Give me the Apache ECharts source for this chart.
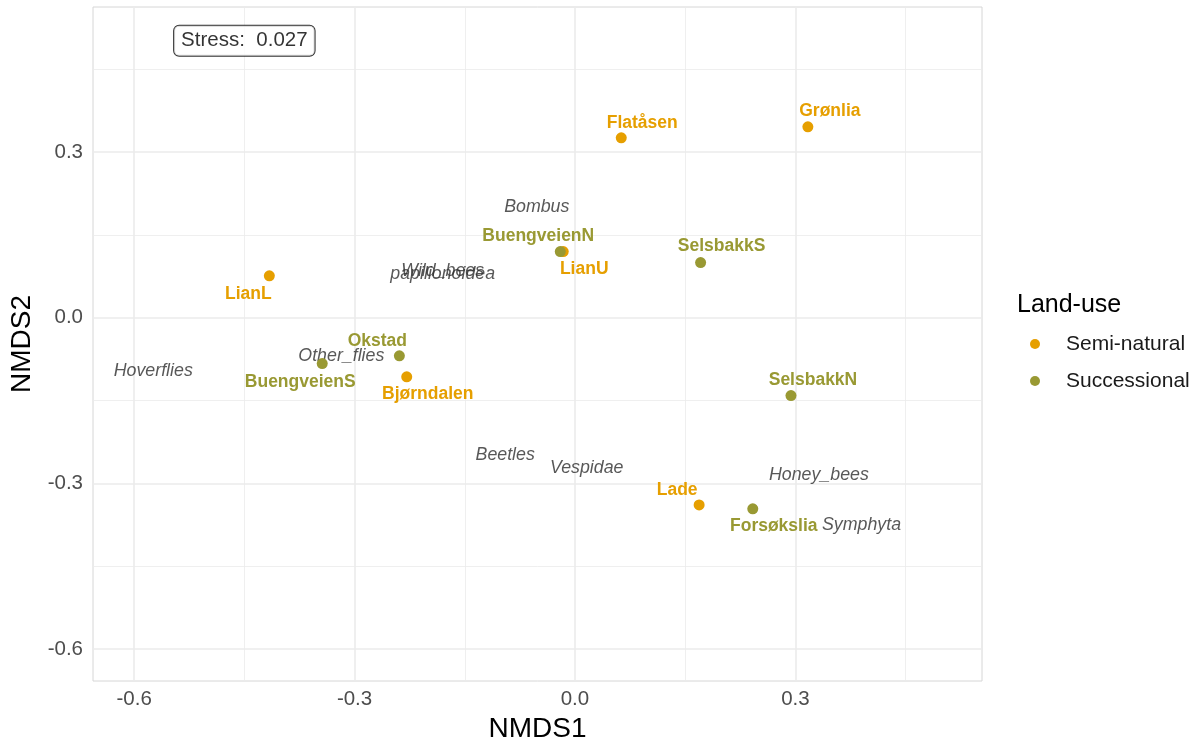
<!DOCTYPE html>
<html>
<head>
<meta charset="utf-8">
<script src="https://cdn.jsdelivr.net/npm/echarts@6/dist/echarts.min.js"></script>
<style>
  html, body { margin: 0; padding: 0; background: #fff; }
  #main { width: 1199px; height: 740px; }
</style>
</head>
<body>
<div id="main"></div>
<script>
// site scores (NMDS1, NMDS2)
var semiNames = ['Flatåsen', 'Grønlia', 'LianL', 'LianU', 'Bjørndalen', 'Lade'];
var semiX = [0.063, 0.317, -0.416, -0.016, -0.229, 0.169];
var semiY = [0.326, 0.346, 0.076, 0.120, -0.107, -0.339];

var succNames = ['BuengveienN', 'SelsbakkS', 'Okstad', 'BuengveienS', 'SelsbakkN', 'Forsøkslia'];
var succX = [-0.020, 0.171, -0.239, -0.344, 0.294, 0.242];
var succY = [0.120, 0.100, -0.069, -0.083, -0.141, -0.346];

// species scores
var specNames = ['Bombus', 'Wild_bees', 'papilionoidea', 'Hoverflies', 'Other_flies', 'Beetles', 'Vespidae', 'Honey_bees', 'Symphyta'];
var specX = [-0.052, -0.180, -0.180, -0.574, -0.318, -0.095, 0.016, 0.332, 0.390];
var specY = [0.201, 0.085, 0.080, -0.096, -0.069, -0.248, -0.272, -0.285, -0.375];

// tick values
var xTicks = [-0.6, -0.3, 0.0, 0.3];
var yTicks = [-0.6, -0.3, 0.0, 0.3];
var xMinor = [-0.45, -0.15, 0.15, 0.45];
var yMinor = [-0.45, -0.15, 0.15, 0.45];

var stressText = 'Stress:  0.027';
var stressPos = [-0.450, 0.502];

// label nudges (px), like the repel layout in the picture
var semiOffsets = [[21, -15], [22, -16], [-21, 18], [21, 18], [21, 17], [-22, -15]];
var succOffsets = [[-22, -15], [21, -16], [-22, -15], [-22, 19], [22, -15], [21, 17]];

var FONT = '"Liberation Sans", Arial, sans-serif';
var ORANGE = '#E69F00';
var OLIVE = '#999933';

function siteData(names, xs, ys, offs) {
	var arr = [];
	for (var i = 0; i < names.length; i++) {
		arr.push({ name: names[i], value: [xs[i], ys[i]], label: { offset: offs[i] } });
	}
	return arr;
}

function specData() {
	var arr = [];
	for (var i = 0; i < specNames.length; i++) {
		arr.push({ name: specNames[i], value: [specX[i], specY[i]] });
	}
	return arr;
}

function gridLines() {
	var d = [];
	xTicks.forEach(function (v) { d.push({ xAxis: v, lineStyle: { width: 1.6 } }); });
	yTicks.forEach(function (v) { d.push({ yAxis: v, lineStyle: { width: 1.6 } }); });
	xMinor.forEach(function (v) { d.push({ xAxis: v, lineStyle: { width: 0.8 } }); });
	yMinor.forEach(function (v) { d.push({ yAxis: v, lineStyle: { width: 0.8 } }); });
	return d;
}

function siteSeries(name, color, data) {
	return {
		name: name,
		type: 'scatter',
		symbol: 'circle',
		symbolSize: 11,
		itemStyle: { color: color, opacity: 1 },
		z: 5,
		label: {
			show: true,
			position: 'inside',
			formatter: '{b}',
			color: color,
			fontFamily: FONT,
			fontWeight: 'bold',
			fontSize: 17.5
		},
		data: data
	};
}

var myChart = echarts.init(document.getElementById('main'));
var option = {
	backgroundColor: '#ffffff',
	animation: false,
	textStyle: { fontFamily: FONT },
	title: {
		text: 'Land-use',
		left: 1012,
		top: 288,
		textStyle: { fontFamily: FONT, fontWeight: 'normal', fontSize: 25, color: '#000' }
	},
	legend: {
		data: ['Semi-natural', 'Successional'],
		orient: 'vertical',
		left: 1030,
		top: 332,
		padding: 0,
		icon: 'circle',
		itemWidth: 10,
		itemHeight: 10,
		itemGap: 13,
		textStyle: { fontFamily: FONT, fontSize: 21, color: '#1a1a1a', lineHeight: 24, padding: [0, 0, 0, 21] }
	},
	grid: {
		left: 93,
		right: 217,
		top: 7,
		bottom: 59,
		outerBoundsMode: 'none',
		containLabel: false,
		show: true,
		borderColor: '#d6d6d6',
		borderWidth: 1
	},
	xAxis: {
		type: 'value',
		min: -0.656,
		max: 0.554,
		name: 'NMDS1',
		nameLocation: 'middle',
		nameGap: 31,
		nameTextStyle: { fontFamily: FONT, fontSize: 28, color: '#000' },
		axisLine: { show: false },
		axisTick: { show: false },
		splitLine: { show: false },
		axisLabel: {
			customValues: xTicks,
			formatter: function (v) { return v.toFixed(1); },
			fontFamily: FONT, fontSize: 20.5, color: '#4d4d4d', margin: 8
		}
	},
	yAxis: {
		type: 'value',
		min: -0.658,
		max: 0.563,
		name: 'NMDS2',
		nameLocation: 'middle',
		nameGap: 56,
		nameTextStyle: { fontFamily: FONT, fontSize: 28, color: '#000' },
		axisLine: { show: false },
		axisTick: { show: false },
		splitLine: { show: false },
		axisLabel: {
			customValues: yTicks,
			formatter: function (v) { return v.toFixed(1); },
			fontFamily: FONT, fontSize: 20.5, color: '#4d4d4d', margin: 10
		}
	},
	series: [
		{
			type: 'scatter',
			data: [],
			silent: true,
			z: 1,
			markLine: {
				silent: true,
				z: 1,
				symbol: 'none',
				label: { show: false },
				lineStyle: { color: '#ebebeb', type: 'solid' },
				data: gridLines()
			}
		},
		{
			type: 'scatter',
			symbolSize: 0,
			silent: true,
			z: 4,
			label: {
				show: true,
				position: 'inside',
				formatter: '{b}',
				color: '#2e2e2e',
				fontFamily: FONT,
				fontStyle: 'italic',
				fontSize: 17.8
			},
			data: specData()
		},
		siteSeries('Semi-natural', ORANGE, siteData(semiNames, semiX, semiY, semiOffsets)),
		siteSeries('Successional', OLIVE, siteData(succNames, succX, succY, succOffsets)),
		{
			type: 'scatter',
			symbolSize: 0,
			silent: true,
			z: 6,
			label: {
				show: true,
				position: 'inside',
				formatter: stressText,
				color: '#000',
				fontFamily: FONT,
				fontSize: 20.5,
				backgroundColor: '#fff',
				borderColor: '#000',
				borderWidth: 1,
				borderRadius: 5,
				padding: [5, 7, 4, 7]
			},
			data: [stressPos]
		}
	]
};
myChart.setOption(option);
</script>
</body>
</html>
